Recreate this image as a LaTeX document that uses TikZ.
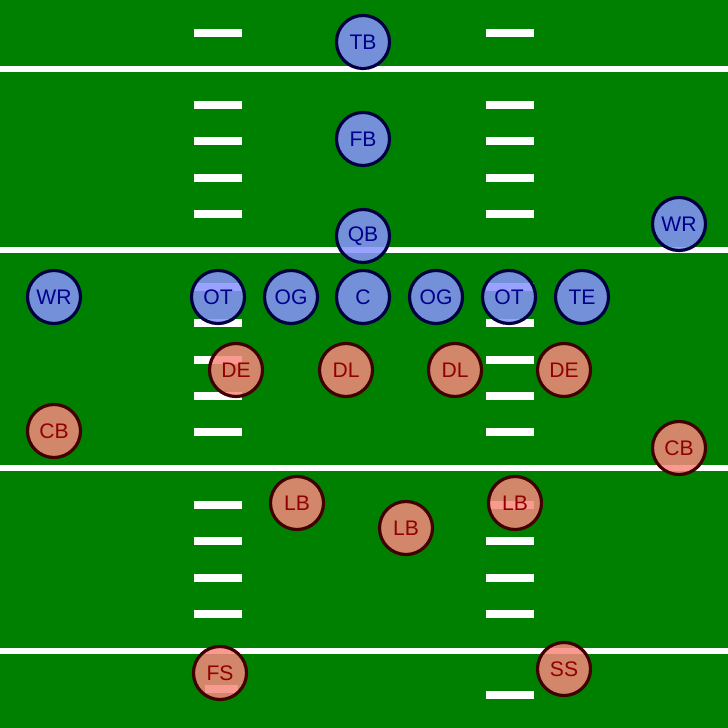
\documentclass[tikz,border=0pt]{standalone}
\usepackage{fontspec}
\setmainfont{Liberation Sans}
\usepackage{tikz}
\usepackage{xcolor}
\definecolor{turf}{HTML}{008000}
\definecolor{offfill}{HTML}{8893FF}
\definecolor{offline}{HTML}{000040}
\definecolor{offtext}{HTML}{00008C}
\definecolor{deffill}{HTML}{F9897D}
\definecolor{defline}{HTML}{400000}
\definecolor{deftext}{HTML}{900000}

\begin{document}
\begin{tikzpicture}[
  op/.style={circle, draw=offline, fill=offfill, text=offtext, line width=0.9pt,
             fill opacity=0.85, text opacity=1,
             minimum size=5.3mm, inner sep=0pt, font=\fontsize{6}{7}\selectfont},
  dp/.style={circle, draw=defline, fill=deffill, text=deftext, line width=0.9pt,
             fill opacity=0.85, text opacity=1,
             minimum size=5.3mm, inner sep=0pt, font=\fontsize{6}{7}\selectfont},
  hash/.style={white, line width=2pt},
  yard/.style={white, line width=1.5pt},
  x=0.01cm, y=-0.01cm
]
  \useasboundingbox (0,0) rectangle (728,728);
  \fill[turf] (0,0) rectangle (728,728);

  %--- Yard lines ---
  \draw[yard] (0,69)  -- (728,69);
  \draw[yard] (0,250) -- (728,250);
  \draw[yard] (0,468) -- (728,468);
  \draw[yard] (0,651) -- (728,651);

  %--- Hash marks ---
  \draw[hash] (194,33)  -- (242,33);  \draw[hash] (486,33)  -- (534,33);
  \draw[hash] (194,105) -- (242,105); \draw[hash] (486,105) -- (534,105);
  \draw[hash] (194,141) -- (242,141); \draw[hash] (486,141) -- (534,141);
  \draw[hash] (194,178) -- (242,178); \draw[hash] (486,178) -- (534,178);
  \draw[hash] (194,214) -- (242,214); \draw[hash] (486,214) -- (534,214);
  \draw[hash] (194,287) -- (242,287); \draw[hash] (486,287) -- (534,287);
  \draw[hash] (194,323) -- (242,323); \draw[hash] (486,323) -- (534,323);
  \draw[hash] (194,360) -- (242,360); \draw[hash] (486,360) -- (534,360);
  \draw[hash] (194,396) -- (242,396); \draw[hash] (486,396) -- (534,396);
  \draw[hash] (194,432) -- (242,432); \draw[hash] (486,432) -- (534,432);
  \draw[hash] (194,505) -- (242,505); \draw[hash] (490,505) -- (534,505);
  \draw[hash] (194,541) -- (242,541); \draw[hash] (486,541) -- (534,541);
  \draw[hash] (194,578) -- (242,578); \draw[hash] (486,578) -- (534,578);
  \draw[hash] (194,614) -- (242,614); \draw[hash] (486,614) -- (534,614);
  \draw[hash] (205,689) -- (238,689); \draw[hash] (486,695) -- (534,695);

  %--- Offense: backfield ---
  \node[op] (tb)  at (363,42)  {TB};
  \node[op] (fb)  at (363,139) {FB};
  \node[op] (qb)  at (363,236) {QB};
  \node[op] (wrr) at (679,224) {WR};

  %--- Offense: line ---
  \node[op] (wrl) at (54,297)  {WR};
  \node[op] (otl) at (218,297) {OT};
  \node[op] (ogl) at (291,297) {OG};
  \node[op] (c)   at (363,297) {C};
  \node[op] (ogr) at (436,297) {OG};
  \node[op] (otr) at (509,297) {OT};
  \node[op] (te)  at (582,297) {TE};

  %--- Defense: front ---
  \node[dp] (del) at (236,370) {DE};
  \node[dp] (dll) at (346,370) {DL};
  \node[dp] (dlr) at (455,370) {DL};
  \node[dp] (der) at (564,370) {DE};

  %--- Defense: corners ---
  \node[dp] (cbl) at (54,431)  {CB};
  \node[dp] (cbr) at (679,448) {CB};

  %--- Defense: linebackers ---
  \node[dp] (lbl) at (297,503) {LB};
  \node[dp] (lbm) at (406,528) {LB};
  \node[dp] (lbr) at (515,503) {LB};

  %--- Defense: safeties ---
  \node[dp] (fs) at (220,673) {FS};
  \node[dp] (ss) at (564,669) {SS};
\end{tikzpicture}
\end{document}
